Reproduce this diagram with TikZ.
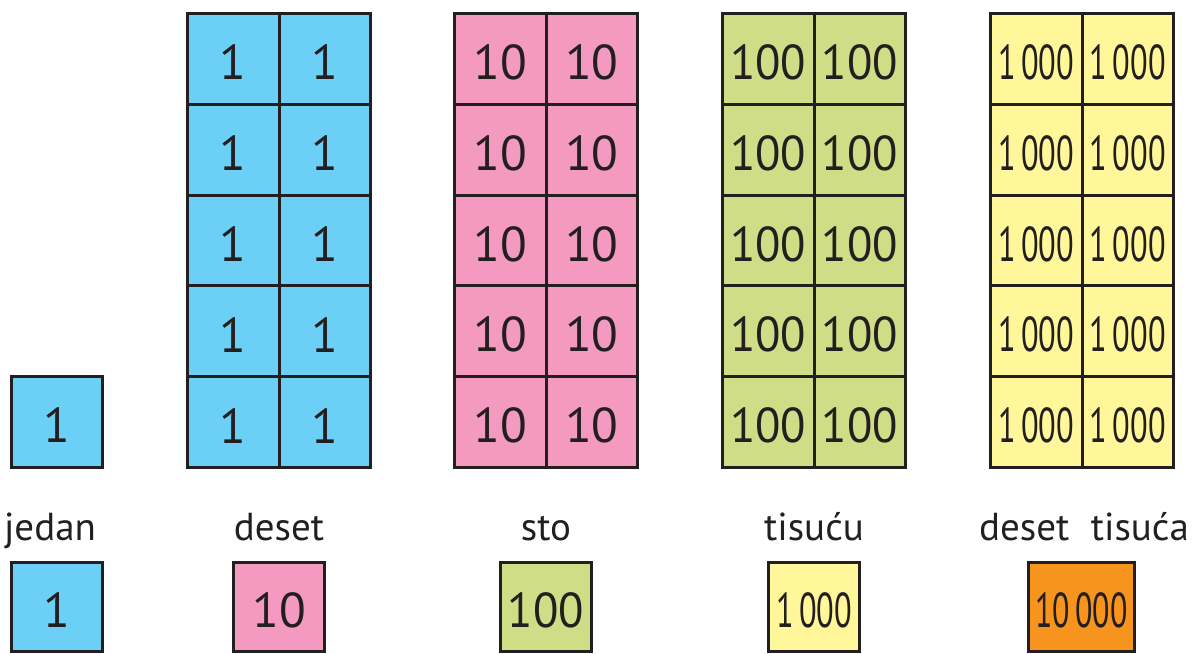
\documentclass[tikz,border=0pt]{standalone}
\usepackage{fontspec}
\setmainfont{PT Sans}
\definecolor{cblue}{RGB}{108,207,246}
\definecolor{cpink}{RGB}{244,154,193}
\definecolor{cgreen}{RGB}{207,221,134}
\definecolor{cyellow}{RGB}{255,247,153}
\definecolor{corange}{RGB}{247,148,29}
\definecolor{cline}{RGB}{35,31,32}
\newcommand\thou{1\,000}
\newcommand\tenthou{10\,000}
\newcommand\nm[2]{\raisebox{-3.5pt}[\height][\depth]{\scalebox{#1}[1]{#2}}}
\begin{document}
\begin{tikzpicture}[x=1pt,y=-1pt,
  cell/.style={draw=cline,line width=3pt,minimum width=91.5pt,minimum height=90.8pt,inner sep=0pt,
    text=cline,font=\fontsize{49}{49}\selectfont},
  unitbox/.style={draw=cline,line width=3pt,minimum width=91pt,minimum height=91pt,inner sep=0pt,
    text=cline,font=\fontsize{49}{49}\selectfont},
  lbl/.style={anchor=base,inner sep=0pt,text=cline,font=\fontsize{39}{39}\selectfont}]
\useasboundingbox (0,0) rectangle (1193,653);
% grids
\foreach \g/\x/\col/\t/\s in {a/186/cblue/1/1, b/453/cpink/10/1, c/721/cgreen/100/0.95, d/989/cyellow/\thou/0.66} {
  \foreach \r in {0,...,4} {
    \foreach \c in {0,1} {
      \node[cell, fill=\col] (\g-\r-\c) at ({\x+47.25+91.5*\c}, {58.9+90.8*\r}) {\nm{\s}{\t}};
    }
  }
}
% single unit above
\node[unitbox, fill=cblue] (one) at (57,422) {\nm{1}{1}};
% labels
\node[lbl] (ljedan) at (50,540) {jedan};
\node[lbl] (ldeset) at (279,540) {deset};
\node[lbl] (lsto) at (546,540) {sto};
\node[lbl] (ltisucu) at (814,540) {tisuću};
\node[lbl] (ldtisuca) at (1084,540) {deset\hspace{0.55em}tisuća};
% bottom boxes
\node[unitbox, fill=cblue, minimum height=89pt] (b1) at (57,607) {\nm{1}{1}};
\node[unitbox, fill=cpink, minimum height=89pt] (b10) at (279,607) {\nm{1}{10}};
\node[unitbox, fill=cgreen, minimum height=89pt] (b100) at (546,607) {\nm{0.95}{100}};
\node[unitbox, fill=cyellow, minimum height=89pt] (b1000) at (814,607) {\nm{0.66}{\thou}};
\node[unitbox, fill=corange, minimum height=89pt, minimum width=106pt] (b10000) at (1081.5,607) {\nm{0.65}{\tenthou}};
\end{tikzpicture}
\end{document}
